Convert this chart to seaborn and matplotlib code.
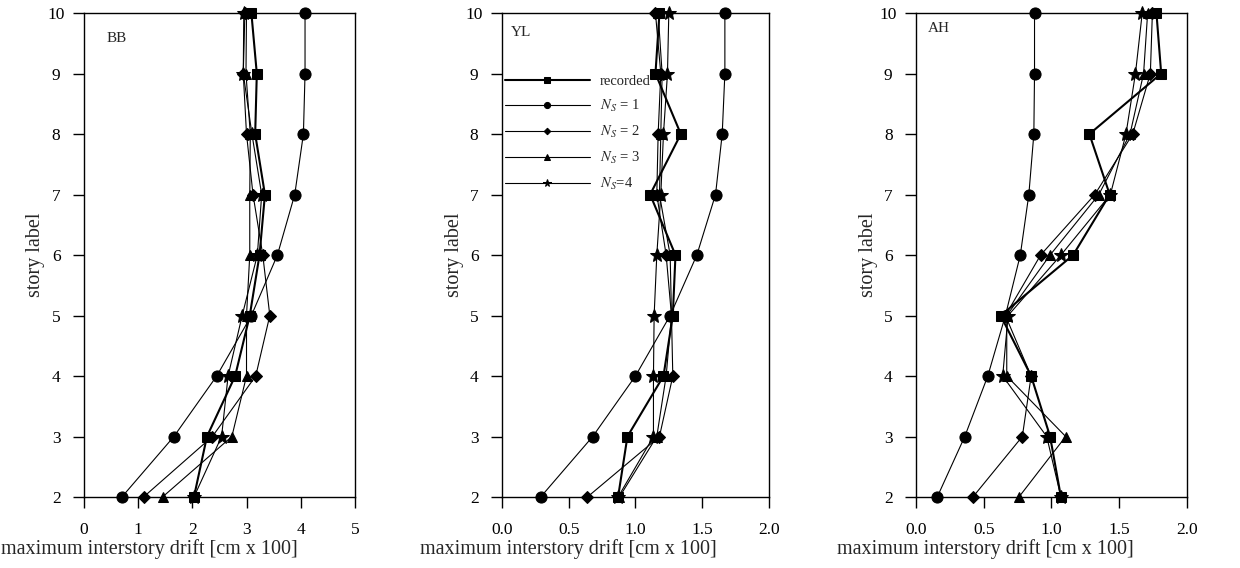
import matplotlib
matplotlib.use("Agg")
import matplotlib.pyplot as plt
import seaborn as sns
import pandas as pd

stories = [2, 3, 4, 5, 6, 7, 8, 9, 10]

# BB
bb_recorded = [2.03, 2.27, 2.79, 3.06, 3.24, 3.34, 3.16, 3.19, 3.09]
bb_ns1 = [0.70, 1.66, 2.45, 3.09, 3.57, 3.89, 4.05, 4.08, 4.08]
bb_ns2 = [1.10, 2.37, 3.17, 3.43, 3.30, 3.12, 3.00, 2.94, 2.97]
bb_ns3 = [1.45, 2.73, 3.00, 3.00, 3.06, 3.06, 3.07, 2.99, 3.00]
bb_ns4 = [2.03, 2.54, 2.66, 2.92, 3.20, 3.28, 3.10, 2.94, 2.95]

# YL
yl_recorded = [0.87, 0.94, 1.21, 1.28, 1.30, 1.11, 1.34, 1.15, 1.18]
yl_ns1 = [0.29, 0.68, 1.00, 1.26, 1.46, 1.60, 1.65, 1.67, 1.67]
yl_ns2 = [0.64, 1.18, 1.28, 1.27, 1.23, 1.16, 1.17, 1.19, 1.15]
yl_ns3 = [0.88, 1.16, 1.23, 1.27, 1.26, 1.18, 1.19, 1.20, 1.17]
yl_ns4 = [0.87, 1.135, 1.135, 1.14, 1.16, 1.19, 1.21, 1.24, 1.25]

# AH
ah_recorded = [1.07, 0.99, 0.85, 0.625, 1.16, 1.43, 1.28, 1.81, 1.775]
ah_ns1 = [0.157, 0.36, 0.53, 0.66, 0.77, 0.833, 0.87, 0.875, 0.875]
ah_ns2 = [0.42, 0.785, 0.85, 0.66, 0.92, 1.32, 1.60, 1.73, 1.745]
ah_ns3 = [0.76, 1.105, 0.67, 0.67, 0.99, 1.35, 1.58, 1.68, 1.71]
ah_ns4 = [1.07, 0.965, 0.64, 0.68, 1.07, 1.435, 1.55, 1.62, 1.67]

series_names = ["recorded", r"$N_S$ = 1", r"$N_S$ = 2", r"$N_S$ = 3", r"$N_S$=4"]
markers = ["s", "o", "D", "^", "*"]
msizes = [7, 8, 6, 7, 10]
widths = [1.5, 0.8, 0.8, 0.8, 0.8]

panels = [
    ("BB", [bb_recorded, bb_ns1, bb_ns2, bb_ns3, bb_ns4], 5, [0, 1, 2, 3, 4, 5], ["0", "1", "2", "3", "4", "5"]),
    ("YL", [yl_recorded, yl_ns1, yl_ns2, yl_ns3, yl_ns4], 2, [0, 0.5, 1, 1.5, 2], ["0.0", "0.5", "1.0", "1.5", "2.0"]),
    ("AH", [ah_recorded, ah_ns1, ah_ns2, ah_ns3, ah_ns4], 2, [0, 0.5, 1, 1.5, 2], ["0.0", "0.5", "1.0", "1.5", "2.0"]),
]
ax_rects = [
    [0.0677, 0.125, 0.2185, 0.852],
    [0.4048, 0.125, 0.2153, 0.852],
    [0.7387, 0.125, 0.2185, 0.852],
]
label_pos = [(0.085, 0.948), (0.035, 0.96), (0.042, 0.968)]
xlabel_x = [0.24, 0.247, 0.255]

sns.set_style("ticks")
plt.rcParams["font.family"] = ["Liberation Serif", "DejaVu Serif"]
plt.rcParams["mathtext.fontset"] = "stix"

fig = plt.figure(figsize=(12.4, 5.68), dpi=100)

for i, (name, data, xmax, xt, xtl) in enumerate(panels):
    ax = fig.add_axes(ax_rects[i])
    for j, vals in enumerate(data):
        df = pd.DataFrame({"drift": vals, "story": stories})
        sns.lineplot(data=df, x="drift", y="story", sort=False, estimator=None,
                     color="black", lw=widths[j], marker=markers[j],
                     markersize=msizes[j], markeredgecolor="black",
                     label=series_names[j], clip_on=False, ax=ax)
    ax.set_xlim(0, xmax)
    ax.set_ylim(2, 10)
    ax.set_xticks(xt)
    ax.set_xticklabels(xtl)
    ax.set_yticks(stories)
    ax.tick_params(direction="out", length=8, width=1, labelsize=12.5, colors="black")
    ax.tick_params(axis="x", pad=10)
    ax.tick_params(axis="y", pad=12)
    for lbl in ax.get_yticklabels():
        lbl.set_horizontalalignment("center")
    for sp in ax.spines.values():
        sp.set_visible(True)
        sp.set_color("black")
        sp.set_linewidth(1)
    ax.set_xlabel("maximum interstory drift [cm x 100]", fontsize=14.5)
    ax.set_ylabel("story label", fontsize=14.5)
    ax.xaxis.set_label_coords(xlabel_x[i], -0.086)
    ax.yaxis.set_label_coords(-0.142, 0.5)
    ax.text(label_pos[i][0], label_pos[i][1], name, transform=ax.transAxes,
            fontsize=11, va="center", ha="left")
    if i == 1:
        ax.legend(loc="upper left", bbox_to_anchor=(-0.01, 0.885), frameon=False,
                  fontsize=10.5, handlelength=5.8, handletextpad=0.7,
                  labelspacing=0.68, markerscale=0.55, borderaxespad=0)
    else:
        ax.get_legend().remove()

plt.savefig("out.png", dpi=100)
plt.close()
